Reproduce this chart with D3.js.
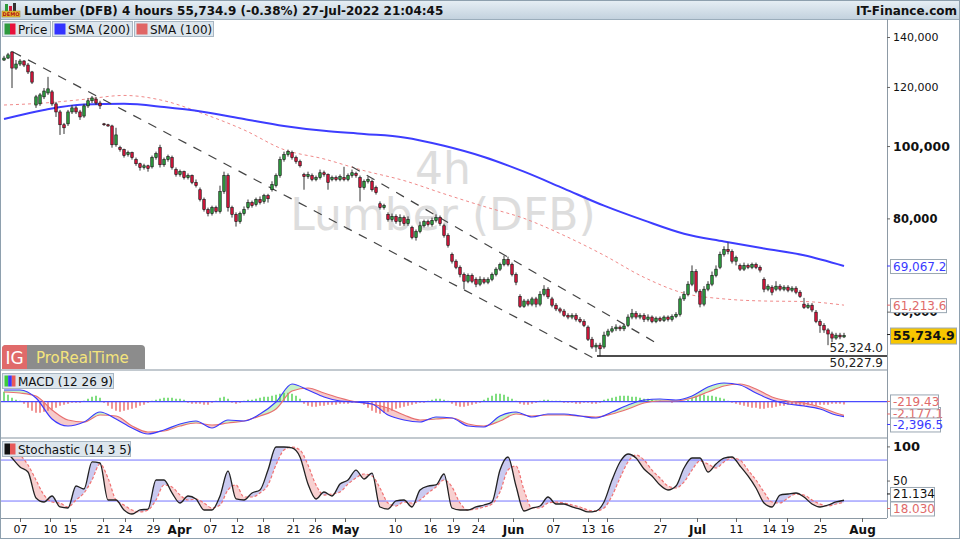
<!DOCTYPE html>
<html>
<head>
<meta charset="utf-8">
<script src="https://cdn.jsdelivr.net/npm/d3@7"></script>
<style>
  body { margin: 0; background: #fff; }
  svg { display: block; font-family: "DejaVu Sans", Verdana, sans-serif; }
</style>
</head>
<body>
<svg id="chart" width="960" height="540"></svg>
<script>
// 4 hour candles, prices in thousands: [open, high, low, close]
const candles = [
  [130.4,132.1,130.0,131.2],[131.2,133.3,130.8,132.5],[133.7,134.1,119.6,127.2],[127.2,130.4,126.5,128.8],
  [128.8,130.8,128.0,130.0],[130.0,130.4,127.6,128.4],[128.4,129.2,124.9,125.7],[125.7,126.1,121.1,121.8],
  [113.5,117.1,112.5,116.4],[113.9,117.8,113.2,117.1],[116.4,119.6,115.6,118.5],[117.8,123.8,117.1,119.3],
  [118.2,118.9,113.2,113.9],[113.9,114.6,109.4,111.1],[111.1,111.8,103.5,106.8],[106.8,107.4,103.8,105.8],
  [107.1,111.8,106.4,111.1],[111.1,113.5,110.4,112.5],[112.5,113.2,110.4,111.1],[111.1,111.8,108.4,109.4],
  [109.7,113.9,109.1,113.2],[113.2,116.0,112.5,115.0],[115.0,116.7,114.2,116.0],[115.6,116.4,113.5,114.2],
  [114.2,115.0,112.1,113.2],[107.1,107.4,106.4,106.8],[106.8,107.1,106.1,106.4],[106.4,106.8,99.5,100.4],
  [100.4,105.8,99.8,103.5],[99.5,100.1,98.3,98.9],[98.9,99.2,96.5,97.1],[97.4,98.6,96.8,98.0],
  [98.0,98.3,95.9,96.5],[95.9,96.5,94.1,94.7],[94.7,95.0,92.7,93.6],[93.6,94.7,93.0,94.1],
  [94.1,94.4,92.4,93.3],[93.8,97.1,93.3,96.5],[96.5,98.3,95.9,97.7],[99.5,100.4,93.6,94.4],
  [94.4,96.5,93.8,95.9],[95.9,97.4,95.3,96.8],[96.5,97.1,93.0,93.6],[93.0,93.6,91.0,91.6],
  [91.6,93.0,91.0,92.4],[92.4,92.7,90.2,90.7],[90.7,91.9,90.2,91.3],[91.3,91.6,88.9,89.4],
  [89.4,90.2,88.0,88.5],[87.4,88.0,84.3,84.8],[84.8,85.3,81.7,82.2],[82.2,82.7,80.5,81.2],
  [81.2,83.2,80.7,82.7],[82.7,83.2,81.2,81.7],[81.7,88.5,81.2,86.9],[86.9,92.4,86.3,91.3],
  [91.3,91.9,81.7,82.7],[82.7,83.2,80.2,81.0],[81.0,81.5,78.0,79.2],[79.2,81.7,78.7,81.2],
  [81.2,83.0,80.7,82.2],[82.7,84.8,82.2,84.0],[84.0,84.5,82.7,83.2],[83.5,85.3,83.0,84.8],
  [84.8,85.6,83.5,84.0],[84.3,86.3,83.7,85.8],[85.8,86.3,84.0,85.0],[87.4,89.7,86.9,88.8],
  [88.5,91.9,88.0,91.3],[91.3,96.8,90.7,95.9],[95.9,98.3,95.3,97.4],[97.4,98.9,96.8,98.3],
  [98.0,98.6,95.9,96.5],[96.5,97.1,94.7,95.3],[95.3,95.9,93.6,94.1],[91.6,92.1,87.4,91.0],
  [91.0,92.4,90.4,91.6],[91.3,91.9,89.7,90.2],[90.2,91.3,89.7,90.7],[90.7,93.0,90.2,92.1],
  [92.1,92.7,91.0,91.6],[91.6,91.9,87.4,89.4],[90.2,91.3,89.7,90.7],[90.7,91.3,89.7,90.2],
  [90.2,91.6,89.7,91.0],[90.7,93.8,89.7,90.2],[90.2,91.9,89.7,91.3],[91.3,93.0,90.7,92.1],
  [91.9,92.4,90.7,91.3],[90.7,91.3,84.3,88.0],[88.0,90.2,87.4,89.7],[89.7,91.0,89.1,90.2],
  [89.7,90.2,86.9,87.4],[88.0,88.5,86.1,86.6],[83.7,84.3,82.2,82.7],[82.7,83.7,82.2,83.2],
  [81.0,81.5,79.2,79.7],[79.7,81.2,79.2,80.5],[80.5,81.0,78.7,79.2],[79.2,81.0,78.2,80.2],
  [80.2,80.7,78.2,78.7],[78.7,80.5,78.2,79.7],[77.8,78.2,75.0,75.4],[75.4,77.3,74.7,76.8],
  [76.8,79.2,76.4,78.2],[78.2,79.7,77.8,79.2],[79.2,79.7,78.0,78.5],[78.5,80.2,78.0,79.5],
  [79.5,81.0,79.0,80.2],[80.2,80.7,78.2,78.7],[78.2,78.7,75.4,75.9],[75.9,76.4,73.1,73.6],
  [71.6,72.0,69.6,70.1],[70.1,70.5,68.4,68.8],[68.8,69.2,66.7,67.3],[67.3,67.7,64.3,65.9],
  [65.9,67.5,65.5,67.1],[67.1,67.5,65.5,65.9],[66.3,66.7,64.7,65.3],[65.3,66.9,64.9,66.3],
  [66.3,66.7,65.3,65.7],[65.7,66.7,65.3,66.3],[66.3,67.7,65.9,67.3],[67.3,68.8,66.9,68.4],
  [68.4,69.8,68.0,69.4],[69.4,71.3,69.0,70.5],[70.5,71.1,69.0,69.4],[69.4,69.8,66.9,67.3],
  [67.3,67.7,65.1,65.7],[62.9,63.3,60.7,61.0],[61.0,62.4,60.7,62.0],[62.0,62.4,61.0,61.4],
  [61.4,62.8,61.0,62.4],[62.4,62.8,60.8,61.4],[61.4,63.9,61.0,63.3],[63.3,65.1,62.9,64.3],
  [64.3,64.7,62.4,62.8],[62.4,62.8,60.8,61.2],[61.2,61.6,60.1,60.5],[60.5,60.8,59.7,60.1],
  [60.1,60.5,59.0,59.3],[59.3,59.7,58.6,59.0],[59.0,59.7,58.6,59.3],[59.3,59.7,58.2,58.6],
  [58.6,59.0,57.9,58.2],[58.2,58.6,57.2,57.5],[57.2,57.5,54.8,55.1],[55.1,55.5,53.5,53.8],
  [53.8,54.5,53.0,54.1],[54.1,54.5,52.3,53.5],[53.8,56.4,53.5,55.8],[55.8,56.9,55.5,56.5],
  [56.5,57.4,56.2,56.9],[56.9,57.7,56.5,57.2],[57.2,57.5,56.5,56.9],[56.9,57.7,56.5,57.4],
  [57.5,59.5,57.2,59.0],[59.0,60.5,58.6,59.7],[59.7,60.1,58.6,59.0],[59.0,59.7,58.6,59.3],
  [59.3,59.7,58.1,58.6],[58.6,59.5,58.2,59.0],[59.0,59.3,57.9,58.2],[58.2,59.1,57.9,58.8],
  [58.8,59.1,58.1,58.4],[58.4,59.3,58.1,59.0],[59.0,59.3,58.2,58.6],[58.6,59.5,58.2,59.1],
  [59.1,59.9,58.8,59.5],[59.5,62.9,59.1,62.4],[62.4,63.9,62.0,63.3],[63.3,65.9,62.9,65.3],
  [65.3,69.2,64.9,67.9],[67.9,68.4,63.5,63.9],[63.9,64.3,60.8,61.4],[61.4,64.9,61.0,64.3],
  [64.3,65.9,63.9,65.3],[65.3,67.9,64.9,67.1],[67.1,69.2,66.7,68.4],[68.8,72.2,68.4,71.6],
  [71.6,73.4,71.1,72.7],[72.7,74.3,71.6,72.2],[72.2,72.7,69.6,70.1],[70.1,71.3,69.2,70.9],
  [69.2,69.6,68.0,68.4],[68.4,69.8,68.0,69.2],[69.2,69.6,68.4,68.8],[68.8,69.8,68.4,69.4],
  [69.4,69.8,68.4,68.8],[68.8,69.2,67.7,68.2],[66.3,66.7,63.7,64.3],[64.3,65.3,63.9,64.9],
  [64.7,65.1,63.1,63.7],[64.3,65.9,63.9,64.9],[64.9,65.3,63.9,64.3],[64.3,65.1,63.9,64.7],
  [64.7,65.1,63.7,64.1],[64.1,64.9,63.7,64.5],[64.5,64.9,63.3,63.7],[63.7,64.1,62.6,62.9],
  [61.4,62.6,60.5,60.8],[60.8,61.6,60.5,61.2],[61.2,61.6,59.9,60.3],[59.9,60.3,57.9,58.2],
  [58.2,58.6,56.2,57.5],[57.5,57.9,56.2,56.7],[56.7,57.0,54.1,56.0],[56.0,56.4,54.6,55.3],
  [55.3,56.2,55.0,55.8],[55.8,56.2,55.1,55.5],[55.5,56.2,55.3,55.7349]
];

// moving averages (thousands), read every 10 bars
const smaBars = d3.range(0, 211, 10);
const sma200 = [108.7, 111.8, 113.7, 113.9, 112.8, 111.1, 108.7, 106.4, 104.8, 103.8, 102.7,
  100.1, 96.7, 92.4, 87.7, 83.2, 79.5, 76.3, 74.5, 72.9, 71.4, 69.0672];
const sma100 = [113.5, 114.2, 115.5, 116.9, 115.0, 110.4, 105.1, 98.9, 96.1, 92.7, 89.9,
  86.3, 83.0, 80.0, 75.9, 71.4, 66.7, 63.5, 62.4, 62.0, 61.9, 61.2136];

// MACD (12 26 9), read every 4 bars plus the last one
const macdBars = [...d3.range(0, 209, 4), 210];
const macdLine = [1870, 1870, 590, -2770, -3890, -3250, -1650, -2770, -4210, -5170, -4530, -3570,
  -3090, -4210, -2930, -3090, -1970, -50, 2830, 1870, 750, 110, -50, -370, -2130, -2930, -3250,
  -2450, -2610, -3890, -4050, -2290, -1650, -2450, -1970, -1970, -2290, -2610, -1650, -530, 270,
  430, 270, 910, 2350, 2990, 2670, 1390, 270, -370, -690, -1170, -2130, -2396.5];
const signalLine = [1550, 1390, 910, -1330, -2930, -3250, -2130, -2290, -3890, -4850, -4690, -3890,
  -3410, -3730, -3410, -3090, -2290, -1170, 1710, 2190, 1390, 590, -50, -370, -1010, -2130, -2930,
  -2770, -2610, -3570, -3890, -3090, -1970, -2290, -2130, -2130, -2290, -2450, -1970, -1170, -210,
  110, 110, 590, 1550, 2510, 2830, 2030, 750, 110, -210, -850, -1810, -2177.1];
// histogram, one value per bar
const histogram = [
  800, 560, 320, 160, 80, -160, -480, -720, -880, -880,
  -800, -720, -640, -480, -320, -240, -160, -80, -80, -80,
  80, 240, 400, 480, 320, -80, -320, -560, -720, -800,
  -720, -640, -560, -480, -320, -240, -80, 80, 160, 240,
  320, 320, 320, 240, 240, 160, -80, -160, -160, -160,
  -240, -240, -80, 80, 320, 400, 240, -80, -160, -80,
  80, 160, 160, 240, 320, 400, 400, 480, 560, 640,
  720, 720, 640, 480, 240, -160, -320, -400, -400, -320,
  -320, -240, -240, -240, -160, -160, -160, -80, -80, -80,
  -240, -480, -720, -880, -960, -880, -800, -720, -560, -480,
  -400, -320, -240, -160, -80, -80, 80, 160, 240, 240,
  160, 80, -160, -320, -400, -400, -320, -240, -160, -80,
  160, 320, 480, 640, 640, 560, 400, 240, 80, -160,
  -240, -240, -160, -80, 80, 160, 160, 80, 80, 80,
  -80, -80, -80, -160, -160, -80, -80, -160, -160, -80,
  160, 240, 320, 400, 480, 480, 480, 400, 400, 320,
  240, 240, 160, 80, 80, 20, -20, -80, 20, 80,
  80, 160, 320, 480, 560, 560, 480, 480, 400, 320,
  240, 80, -80, -160, -240, -320, -400, -480, -480, -560,
  -560, -480, -480, -400, -320, -320, -240, -240, -240, -240,
  -320, -240, -240, -320, -240, -240, -240, -160, -160, -160,
  -219.43];

// Stochastic (14 3 5), read every 2 bars
const stochBars = d3.range(0, 211, 2);
const stochK = [96.2, 83.0, 69.8, 62.5, 24.5, 18.6, 27.4, 11.3, 9.8, 42.0,
  37.6, 77.2, 75.7, 21.5, 21.5, 6.9, 1.0, 6.9, 8.3, 50.8,
  50.8, 31.8, 17.1, 27.4, 23.0, 6.9, 6.9, 27.4, 64.0, 23.0,
  21.5, 31.8, 36.2, 65.4, 99.1, 99.1, 97.7, 84.5, 44.9, 23.0,
  33.2, 27.4, 44.9, 50.8, 65.4, 52.3, 61.0, 11.3, 8.3, 20.1,
  21.5, 11.3, 36.2, 42.0, 43.5, 59.6, 9.8, 6.9, 6.9, 11.3,
  14.2, 18.6, 65.4, 84.5, 42.0, 5.4, 9.8, 12.7, 25.9, 15.7,
  15.7, 11.3, 8.3, 4.0, 5.4, 18.6, 50.8, 77.2, 88.9, 83.0,
  66.9, 56.7, 43.5, 36.2, 42.0, 68.4, 83.0, 83.0, 62.5, 74.2,
  83.0, 84.5, 71.3, 56.7, 39.1, 17.1, 11.3, 28.8, 30.3, 31.8,
  25.9, 15.7, 11.3, 14.2, 18.6, 21.134];
const stochD = [99.1, 94.7, 87.4, 72.8, 50.8, 28.8, 18.6, 17.1, 11.3, 21.5,
  31.8, 50.8, 74.2, 53.7, 21.5, 14.2, 6.9, 4.0, 6.9, 21.5,
  43.5, 40.6, 28.8, 21.5, 23.0, 17.1, 9.8, 14.2, 36.2, 43.5,
  25.9, 25.9, 31.8, 43.5, 72.8, 94.7, 99.1, 94.7, 72.8, 43.5,
  28.8, 30.3, 33.2, 44.9, 53.7, 59.6, 56.7, 39.1, 17.1, 12.7,
  18.6, 17.1, 21.5, 31.8, 40.6, 50.8, 40.6, 17.1, 6.9, 8.3,
  11.3, 15.7, 33.2, 65.4, 71.3, 36.2, 9.8, 9.8, 17.1, 18.6,
  17.1, 14.2, 11.3, 6.9, 5.4, 9.8, 27.4, 53.7, 77.2, 87.4,
  80.1, 65.4, 53.7, 42.0, 39.1, 47.9, 65.4, 78.6, 74.2, 68.4,
  77.2, 83.0, 80.1, 65.4, 50.8, 33.2, 18.6, 17.1, 24.5, 30.3,
  28.8, 21.5, 15.7, 12.7, 15.7, 18.03];

// date axis: bar positions and labels
const tickBars = [4, 11.5, 16.5, 24.75, 30.25, 37.25, 43.75, 51.5, 58.25, 64.75, 72.25, 77.75, 85.25,
  97.75, 106.5, 112.25, 118.5, 127.25, 137.25, 146, 150.75, 164, 173.25, 183, 191.25, 195.75, 204, 214.5];
const tickLabels = ["07", "10", "15", "21", "24", "29", "Apr", "07", "12", "18", "21", "26", "May",
  "10", "16", "19", "24", "Jun", "07", "13", "16", "27", "Jul", "11", "14", "19", "25", "Aug"];
const months = ["Apr", "May", "Jun", "Jul", "Aug"];

// drawn channel, [bar, price] ends, and the marked low
const channel = [[[2.25, 133.7], [148.5, 51.6]], [[87, 93.8], [162.75, 54.6]]];
const supportLevel = 52.324, supportFrom = 148.25, lowMark = 50.2279;
const priceTicks = [140, 120, 100, 80, 60];

const svg = d3.select("#chart");
const W = 960, H = 540, axisX = 887;
const font = '"DejaVu Sans", Verdana, sans-serif';
const loc = d3.formatLocale({decimal: ".", thousands: ",", grouping: [3], currency: ["", ""], minus: "-"});
const f1 = loc.format(",.1f"), f2 = loc.format(",.2f"), f3 = loc.format(".3f");
const last = a => a[a.length - 1];

const xBar = d3.scaleLinear().domain([0, 210]).range([4, 844]);
const yPrice = d3.scaleLog().domain([52.324, 140]).range([356, 37]);
const yMacd = d3.scaleLinear().domain([-5600, 4700]).range([436.7, 372.3]);
const yHist = d3.scaleLinear().domain([-2800, 2350]).range([436.7, 372.3]);
const yStoch = d3.scaleLinear().domain([0, 100]).range([514.7, 446.4]);

const defs = svg.append("defs");
function clipRect(id, x, y, w, h) {
  defs.append("clipPath").attr("id", id).append("rect")
    .attr("x", x).attr("y", y).attr("width", w).attr("height", h);
}
clipRect("clipPrice", 0, 37, axisX, 331);
clipRect("clipMacd", 0, 371, axisX, 66);
clipRect("clipStoch", 0, 439, axisX, 79);

// header bar
const hg = defs.append("linearGradient").attr("id", "hdr")
  .attr("x1", 0).attr("y1", 0).attr("x2", 0).attr("y2", 1);
hg.append("stop").attr("offset", "0").attr("stop-color", "#e7eff5");
hg.append("stop").attr("offset", "1").attr("stop-color", "#c3d2de");
svg.append("rect").attr("width", W).attr("height", 19).attr("fill", "url(#hdr)");
svg.append("line").attr("x1", 0).attr("x2", W).attr("y1", 19.5).attr("y2", 19.5).attr("stroke", "#9badbb");

const icon = svg.append("g");
icon.append("rect").attr("x", 5).attr("y", 4).attr("width", 3).attr("height", 7).attr("fill", "#2e9a3e");
icon.append("rect").attr("x", 9).attr("y", 6).attr("width", 3).attr("height", 5).attr("fill", "#d0173b");
icon.append("rect").attr("x", 13).attr("y", 3).attr("width", 3).attr("height", 8).attr("fill", "#333");
icon.append("rect").attr("x", 2).attr("y", 11).attr("width", 18).attr("height", 6).attr("fill", "#e8c23a").attr("stroke", "#a07a10").attr("stroke-width", 0.5);
icon.append("text").attr("x", 11).attr("y", 16).attr("text-anchor", "middle").attr("font-size", 5).attr("font-weight", "bold").attr("fill", "#b01010").text("DEMO");

svg.append("text").attr("x", 24).attr("y", 15).attr("font-size", 12).attr("font-weight", "bold").attr("fill", "#111")
  .text(`Lumber (DFB) 4 hours ${f1(last(candles)[3] * 1000)} (-0.38%) 27-Jul-2022 21:04:45`);
svg.append("text").attr("x", 957).attr("y", 15).attr("text-anchor", "end").attr("font-size", 12)
  .attr("font-weight", "bold").attr("fill", "#111").text("IT-Finance.com");

// legend boxes
function legendBox(x, y, w, colors, label) {
  const g = svg.append("g");
  g.append("rect").attr("x", x + 0.5).attr("y", y + 0.5).attr("width", w).attr("height", 15)
    .attr("fill", "#dde6ed").attr("stroke", "#a9b7c3");
  const sw = 11 / colors.length;
  colors.forEach((c, k) => g.append("rect").attr("x", x + 2.5 + k * sw).attr("y", y + 2.5)
    .attr("width", sw).attr("height", 11).attr("fill", c));
  g.append("text").attr("x", x + 16).attr("y", y + 12.5).attr("font-size", 12).attr("fill", "#111").text(label);
}

// watermark
svg.append("text").attr("x", 443).attr("y", 184).attr("text-anchor", "middle").attr("font-size", 44)
  .attr("fill", "#dddddd").text("4h");
svg.append("text").attr("x", 443).attr("y", 230).attr("text-anchor", "middle").attr("font-size", 44)
  .attr("fill", "#dddddd").text("Lumber (DFB)");

// ---- price panel
const pp = svg.append("g").attr("clip-path", "url(#clipPrice)");
const smaLine = d3.line().x((d, i) => xBar(smaBars[i])).y(d => yPrice(d)).curve(d3.curveMonotoneX);
pp.append("path").attr("d", smaLine(sma100)).attr("fill", "none").attr("stroke", "#f08a8a")
  .attr("stroke-width", 1).attr("stroke-dasharray", "3,3");
pp.append("path").attr("d", smaLine(sma200)).attr("fill", "none").attr("stroke", "#3d3dff").attr("stroke-width", 2);

pp.selectAll("line.chan").data(channel).join("line").attr("class", "chan")
  .attr("x1", d => xBar(d[0][0])).attr("y1", d => yPrice(d[0][1]))
  .attr("x2", d => xBar(d[1][0])).attr("y2", d => yPrice(d[1][1]))
  .attr("stroke", "#444").attr("stroke-width", 1.2).attr("stroke-dasharray", "9,8");

const bw = 2.5;
pp.selectAll("line.wick").data(candles).join("line").attr("class", "wick")
  .attr("x1", (d, i) => xBar(i)).attr("x2", (d, i) => xBar(i))
  .attr("y1", d => yPrice(d[1])).attr("y2", d => yPrice(d[2]))
  .attr("stroke", "#333").attr("stroke-width", 1);
pp.selectAll("rect.body").data(candles).join("rect").attr("class", "body")
  .attr("x", (d, i) => xBar(i) - bw / 2).attr("width", bw)
  .attr("y", d => yPrice(Math.max(d[0], d[3])))
  .attr("height", d => Math.max(0.8, Math.abs(yPrice(d[0]) - yPrice(d[3]))))
  .attr("fill", d => d[3] >= d[0] ? "#2e9a3e" : "#d0173b")
  .attr("stroke", "#111").attr("stroke-width", 0.6);

svg.append("line").attr("x1", xBar(supportFrom)).attr("x2", axisX)
  .attr("y1", yPrice(supportLevel)).attr("y2", yPrice(supportLevel)).attr("stroke", "#111").attr("stroke-width", 1.6);
svg.append("text").attr("x", 883).attr("y", yPrice(supportLevel) - 4).attr("text-anchor", "end")
  .attr("font-size", 12).attr("fill", "#222").text(f1(supportLevel * 1000));
svg.append("text").attr("x", 883).attr("y", yPrice(supportLevel) + 11).attr("text-anchor", "end")
  .attr("font-size", 12).attr("fill", "#222").text(f1(lowMark * 1000));

legendBox(2, 21, 48, ["#2e9a3e", "#e8103a"], "Price");
legendBox(52, 21, 80, ["#3333ff"], "SMA (200)");
legendBox(134, 21, 79, ["#e06666"], "SMA (100)");

// ProRealTime badge
const logo = svg.append("g");
logo.append("path").attr("d", "M2,369 V349 Q2,345 6,345 H141 Q145,345 145,349 V369 Z").attr("fill", "#8c8c8c");
logo.append("path").attr("d", "M2,369 V349 Q2,345 6,345 H27 V369 Z").attr("fill", "#e06a6a");
logo.append("text").attr("x", 14.5).attr("y", 364).attr("text-anchor", "middle").attr("font-size", 17)
  .attr("fill", "#fff").text("IG");
logo.append("text").attr("x", 36).attr("y", 363).attr("font-size", 15).attr("fill", "#f4e47c").text("ProRealTime");

// panel separators
svg.append("rect").attr("x", 0).attr("y", 369).attr("width", axisX).attr("height", 2).attr("fill", "#c2c9cf");
svg.append("rect").attr("x", 0).attr("y", 437).attr("width", axisX).attr("height", 2).attr("fill", "#c2c9cf");

// ---- MACD panel
const mp = svg.append("g").attr("clip-path", "url(#clipMacd)");
const mPts = macdBars.map((b, k) => ({b, m: macdLine[k], s: signalLine[k]}));
const curve = d3.curveMonotoneX;
defs.append("clipPath").attr("id", "macdUp").append("path")
  .attr("d", d3.area().x(d => xBar(d.b)).y0(371).y1(d => yMacd(d.s)).curve(curve)(mPts));
defs.append("clipPath").attr("id", "macdDn").append("path")
  .attr("d", d3.area().x(d => xBar(d.b)).y0(437).y1(d => yMacd(d.s)).curve(curve)(mPts));
const between = d3.area().x(d => xBar(d.b)).y0(d => yMacd(d.s)).y1(d => yMacd(d.m)).curve(curve);
mp.append("g").attr("clip-path", "url(#macdUp)").append("path").attr("d", between(mPts)).attr("fill", "#c8f2c8");
mp.append("g").attr("clip-path", "url(#macdDn)").append("path").attr("d", between(mPts)).attr("fill", "#f6caca");

mp.selectAll("line.hist").data(histogram).join("line").attr("class", "hist")
  .attr("x1", (d, i) => xBar(i)).attr("x2", (d, i) => xBar(i))
  .attr("y1", yHist(0)).attr("y2", d => yHist(d))
  .attr("stroke", d => d >= 0 ? "#3ccc3c" : "#e85a5a").attr("stroke-width", 1.3);
mp.append("line").attr("x1", 0).attr("x2", axisX).attr("y1", yMacd(0)).attr("y2", yMacd(0))
  .attr("stroke", "#4a4aff").attr("stroke-width", 1.2);
mp.append("path").attr("d", d3.line().x(d => xBar(d.b)).y(d => yMacd(d.s)).curve(curve)(mPts))
  .attr("fill", "none").attr("stroke", "#e87070").attr("stroke-width", 1.2);
mp.append("path").attr("d", d3.line().x(d => xBar(d.b)).y(d => yMacd(d.m)).curve(curve)(mPts))
  .attr("fill", "none").attr("stroke", "#3a3aff").attr("stroke-width", 1.2);
legendBox(2, 373, 111, ["#3ccc3c", "#3a3aff", "#e85a5a"], "MACD (12 26 9)");

// ---- Stochastic panel
const sp = svg.append("g").attr("clip-path", "url(#clipStoch)");
const sPts = stochBars.map((b, k) => ({b, k: stochK[k], d: stochD[k]}));
defs.append("clipPath").attr("id", "stUp").append("path")
  .attr("d", d3.area().x(d => xBar(d.b)).y0(439).y1(d => yStoch(d.d)).curve(curve)(sPts));
defs.append("clipPath").attr("id", "stDn").append("path")
  .attr("d", d3.area().x(d => xBar(d.b)).y0(518).y1(d => yStoch(d.d)).curve(curve)(sPts));
const sBetween = d3.area().x(d => xBar(d.b)).y0(d => yStoch(d.d)).y1(d => yStoch(d.k)).curve(curve);
sp.append("g").attr("clip-path", "url(#stUp)").append("path").attr("d", sBetween(sPts)).attr("fill", "#cacaf0");
sp.append("g").attr("clip-path", "url(#stDn)").append("path").attr("d", sBetween(sPts)).attr("fill", "#f8d0d0");
[80, 20].forEach(v => sp.append("line").attr("x1", 0).attr("x2", axisX).attr("y1", yStoch(v)).attr("y2", yStoch(v))
  .attr("stroke", "#7474ff").attr("stroke-width", 1));
sp.append("path").attr("d", d3.line().x(d => xBar(d.b)).y(d => yStoch(d.d)).curve(curve)(sPts))
  .attr("fill", "none").attr("stroke", "#f07272").attr("stroke-width", 1.2).attr("stroke-dasharray", "3,2");
sp.append("path").attr("d", d3.line().x(d => xBar(d.b)).y(d => yStoch(d.k)).curve(curve)(sPts))
  .attr("fill", "none").attr("stroke", "#222").attr("stroke-width", 1.3);
legendBox(2, 441, 128, ["#111", "#e85a5a"], "Stochastic (14 3 5)");

// ---- axes
svg.append("line").attr("x1", axisX + 0.5).attr("x2", axisX + 0.5).attr("y1", 19).attr("y2", 518).attr("stroke", "#8d9aa5");
svg.append("line").attr("x1", 0).attr("x2", axisX).attr("y1", 518.5).attr("y2", 518.5).attr("stroke", "#8d9aa5");

const gy = svg.append("g").attr("transform", `translate(${axisX},0)`)
  .call(d3.axisRight(yPrice).tickValues(priceTicks).tickSize(3).tickPadding(3).tickFormat(d => loc.format(",")(d * 1000)));
gy.select(".domain").remove();
gy.selectAll("line").attr("stroke", "#666");
gy.selectAll("text").attr("font-family", font).attr("fill", "#111")
  .attr("font-size", d => d === 100 ? 12.5 : d < 100 ? 11.5 : 11)
  .attr("font-weight", d => d <= 100 ? "bold" : null);

const gs = svg.append("g").attr("transform", `translate(${axisX},0)`)
  .call(d3.axisRight(yStoch).tickValues([100, 50]).tickSize(3).tickPadding(3));
gs.select(".domain").remove();
gs.selectAll("line").attr("stroke", "#666");
gs.selectAll("text").attr("font-family", font).attr("fill", "#111")
  .attr("font-size", d => d === 100 ? 13 : 11.5).attr("font-weight", d => d === 100 ? "bold" : null);

const gx = svg.append("g").attr("transform", "translate(0,518)")
  .call(d3.axisBottom(xBar).tickValues(tickBars).tickSize(4).tickPadding(3).tickFormat((d, i) => tickLabels[i]));
gx.select(".domain").remove();
gx.selectAll("line").attr("stroke", "#666");
gx.selectAll("text").attr("font-family", font).attr("fill", "#111")
  .attr("font-size", (d, i) => months.includes(tickLabels[i]) ? 12 : 11)
  .attr("font-weight", (d, i) => months.includes(tickLabels[i]) ? "bold" : null);

// ---- value tags on the right
function tag(y, label, opt) {
  const x = 890, h = 14;
  svg.append("line").attr("x1", axisX).attr("x2", x).attr("y1", y).attr("y2", y).attr("stroke", opt.color);
  svg.append("rect").attr("x", x + 0.5).attr("y", y - h / 2 + 0.5).attr("width", opt.w).attr("height", h + (opt.bold ? 2 : 0))
    .attr("fill", opt.bg || "#fff").attr("stroke", "#9aa7b2");
  svg.append("text").attr("x", x + 3).attr("y", y + 4.5 + (opt.bold ? 1 : 0)).attr("font-size", opt.bold ? 12.5 : 12)
    .attr("font-weight", opt.bold ? "bold" : null).attr("fill", opt.text || opt.color).text(label);
}
tag(yPrice(last(sma200)), f1(last(sma200) * 1000), {w: 56, color: "#3a3aff"});
tag(yPrice(last(sma100)), f1(last(sma100) * 1000), {w: 56, color: "#e06a6a"});
tag(yPrice(last(candles)[3]) - 1, f1(last(candles)[3] * 1000), {w: 66, color: "#222", text: "#111", bg: "#f7c600", bold: true});

tag(yMacd(last(signalLine)) - 1.3, f1(last(signalLine)), {w: 50, color: "#e06a6a"});
tag(yHist(last(histogram)) - 3, f2(last(histogram)), {w: 48, color: "#e06a6a"});
tag(yMacd(last(macdLine)) + 7.8, f1(last(macdLine)), {w: 50, color: "#3a3aff"});

tag(yStoch(last(stochK)) - 6.3, f3(last(stochK)), {w: 44, color: "#111"});
tag(yStoch(last(stochD)) + 6.1, f3(last(stochD)), {w: 44, color: "#e06a6a"});

// outer frame
svg.append("rect").attr("x", 0.5).attr("y", 0.5).attr("width", W - 1).attr("height", H - 2)
  .attr("fill", "none").attr("stroke", "#8ea0ae");
</script>
</body>
</html>
